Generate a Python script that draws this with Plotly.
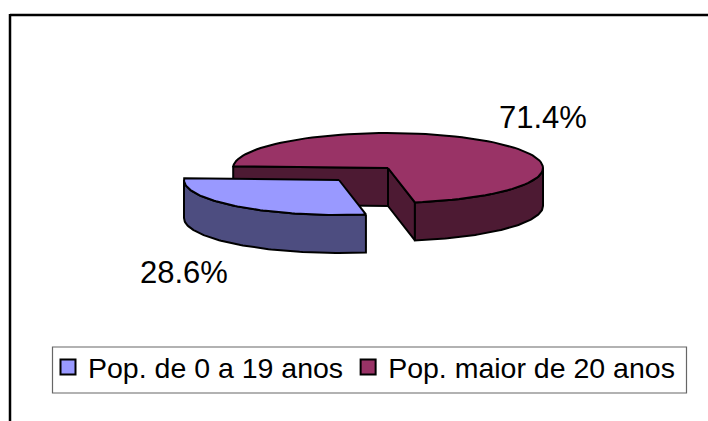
import numpy as np
import plotly.graph_objects as go

# --- data -------------------------------------------------------------
categories = ["Pop. de 0 a 19 anos", "Pop. maior de 20 anos"]
shares = [28.6, 71.4]
top_colors = ["#9999FF", "#993366"]
side_colors = ["#4D4D80", "#4D1A33"]

# --- pseudo-3D pie geometry (page pixels) ------------------------------
W, H = 708, 421
CX, CY, RX, RY = 388, 168, 155, 35
DEPTH = 38
FIRST_ANGLE = 170
EXPLODE = (-49, 12)
LINE = dict(color="#000000", width=2)


def arc(t0, t1, cx, cy):
    t = np.radians(np.linspace(t0, t1, 90))
    return cx + RX * np.sin(t), cy - RY * np.cos(t)


def poly(fig, xs, ys, color):
    fig.add_trace(go.Scatter(x=list(xs) + [xs[0]], y=list(ys) + [ys[0]], mode="lines",
                             fill="toself", fillcolor=color, line=LINE,
                             hoverinfo="skip", showlegend=False))


def extrude(fig, xs, ys, color):
    xs, ys = np.asarray(xs), np.asarray(ys)
    poly(fig, np.r_[xs, xs[::-1]], np.r_[ys, ys[::-1] + DEPTH], color)


def slice_(fig, t0, t1, cx, cy, top, side):
    x0, y0 = arc(t0, t0, cx, cy)
    x1, y1 = arc(t1, t1, cx, cy)
    # inner walls, only where they face the viewer
    if (t0 % 360) > 180:
        extrude(fig, [x0[-1], cx], [y0[-1], cy], side)
    if (t1 % 360) < 180 and (t1 % 360) > 90:
        extrude(fig, [cx, x1[-1]], [cy, y1[-1]], side)
    # outer wall: front half of the rim only
    for k in (0, 360):
        a, b = max(t0, 90 + k), min(t1, 270 + k)
        if b > a:
            xs, ys = arc(a, b, cx, cy)
            extrude(fig, xs, ys, side)
    xs, ys = arc(t0, t1, cx, cy)
    poly(fig, np.r_[cx, xs], np.r_[cy, ys], top)


fig = go.Figure()

span0 = shares[0] / sum(shares) * 360
span1 = shares[1] / sum(shares) * 360
# rear, larger slice first; the exploded slice sits in front of it
slice_(fig, FIRST_ANGLE + span0, FIRST_ANGLE + span0 + span1, CX, CY, top_colors[1], side_colors[1])
slice_(fig, FIRST_ANGLE, FIRST_ANGLE + span0, CX + EXPLODE[0], CY + EXPLODE[1], top_colors[0], side_colors[0])

for name, color in zip(categories, top_colors):
    fig.add_trace(go.Scatter(x=[None], y=[None], mode="markers", name=name,
                             marker=dict(symbol="square", size=15, color=color,
                                         line=dict(color="#000000", width=2))))

label_positions = [(184, 272), (543, 117)]
annotations = [dict(x=px, y=py, xref="x", yref="y", text=f"{v}%", showarrow=False,
                    font=dict(family="Liberation Sans", size=31, color="#000000"))
               for v, (px, py) in zip(shares, label_positions)]

shapes = [
    dict(type="line", xref="x", yref="y", x0=10, x1=10, y0=14, y1=H, line=dict(color="#000000", width=2.5)),
    dict(type="line", xref="x", yref="y", x0=10, x1=W, y0=15, y1=15, line=dict(color="#000000", width=2.5)),
    dict(type="rect", xref="x", yref="y", x0=52.5, x1=686.5, y0=347, y1=393, line=dict(color="#666666", width=1.2)),
]

fig.update_layout(
    width=W, height=H, margin=dict(l=0, r=0, t=0, b=0),
    paper_bgcolor="#FFFFFF", plot_bgcolor="#FFFFFF",
    xaxis=dict(range=[0, W], visible=False),
    yaxis=dict(range=[H, 0], visible=False),
    shapes=shapes, annotations=annotations, hovermode=False,
    legend=dict(orientation="h", x=48 / W, y=1 - 342 / H, xanchor="left", yanchor="top",
                bgcolor="rgba(0,0,0,0)", itemsizing="trace", itemwidth=30,
                font=dict(family="Liberation Sans", size=28.5, color="#000000")),
)

fig.write_html("out.html", config={"displayModeBar": False},
               post_script="document.body.style.margin='0';document.body.style.overflow='hidden';")
